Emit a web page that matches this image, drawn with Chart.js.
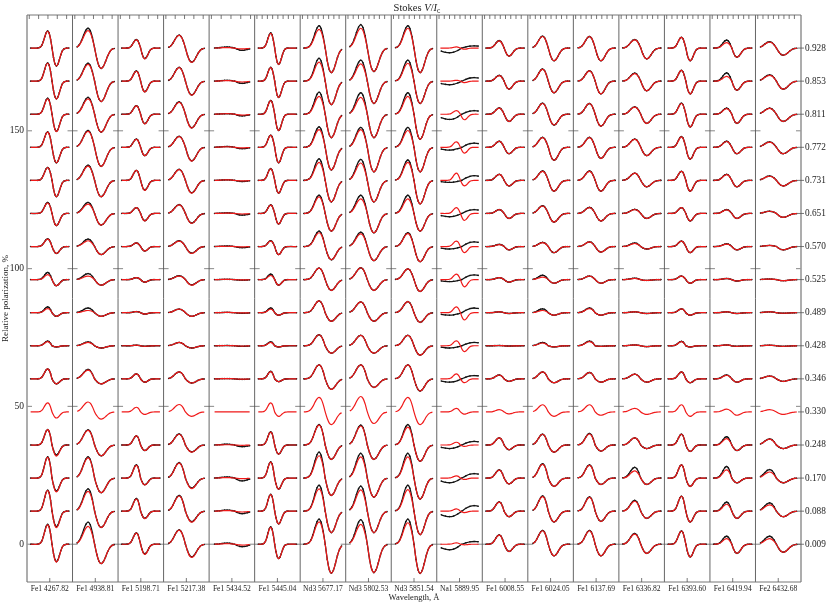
<!DOCTYPE html>
<html>
<head>
<meta charset="utf-8">
<script src="https://cdn.jsdelivr.net/npm/chart.js@4.4.1/dist/chart.umd.min.js"></script>
<style>
  html, body { margin: 0; padding: 0; background: #fff; }
</style>
</head>
<body>
<canvas id="grafik" width="830" height="604"></canvas>
<script>
// spectral lines, one panel each
const LINES = [
    'Fe1 4267.82', 'Fe1 4938.81', 'Fe1 5198.71', 'Fe1 5217.38', 'Fe1 5434.52',
    'Fe1 5445.04', 'Nd3 5677.17', 'Nd3 5802.53', 'Nd3 5851.54', 'Na1 5889.95',
    'Fe1 6008.55', 'Fe1 6024.05', 'Fe1 6137.69', 'Fe1 6336.82', 'Fe1 6393.60',
    'Fe1 6419.94', 'Fe2 6432.68'
];

// rotation phases, top row first
const PHASES = ['0.928', '0.853', '0.811', '0.772', '0.731', '0.651', '0.570', '0.525',
                '0.489', '0.428', '0.346', '0.330', '0.248', '0.170', '0.088', '0.009'];
const ROW_STEP = 12;          // vertical shift between phases, %
const Y_TICKS = [0, 50, 100, 150];

// normalised Stokes V shape, u = -1 ... 1 in steps of 0.1
const SHAPE = [0, 0.02, 0.06, 0.17, 0.38, 0.66, 0.90, 1.00, 0.88, 0.52, 0,
               -0.52, -0.88, -1.00, -0.90, -0.66, -0.38, -0.17, -0.06, -0.02, 0];

// line centre and half width inside a panel (panel = 1)
const CENTER     = [0.55, 0.485, 0.495, 0.48, 0.56, 0.44, 0.55, 0.475, 0.50, 0.52, 0.48, 0.45, 0.48, 0.48, 0.47, 0.48, 0.46];
const WIDTH      = [0.32, 0.48, 0.31, 0.46, 0.55, 0.29, 0.45, 0.48, 0.45, 0.30, 0.36, 0.42, 0.42, 0.44, 0.32, 0.38, 0.50];
const OBS_CENTER = [0.55, 0.485, 0.495, 0.48, 0.56, 0.44, 0.55, 0.475, 0.50, 0.55, 0.48, 0.45, 0.48, 0.48, 0.47, 0.48, 0.46];
const OBS_WIDTH  = [0.32, 0.48, 0.31, 0.46, 0.55, 0.29, 0.45, 0.48, 0.45, 0.90, 0.36, 0.42, 0.42, 0.44, 0.32, 0.38, 0.50];

// model (red): blue lobe height and red lobe depth, %
const MOD_PEAK = [
    [6.1, 6.5, 5.6, 5.5, 4.6, 3.8, 2.7, 1.8, 1.5, 1.5, 3.6, 3.3, 5.6, 7.5, 7.5, 7.0],
    [6.3, 6.1, 5.6, 5.8, 5.2, 3.4, 2.1, 1.3, 0.8, 1.2, 3.2, 3.6, 5.3, 7.3, 7.2, 6.5],
    [3.0, 3.6, 3.0, 2.9, 3.6, 2.1, 1.3, 0.7, 0.4, 0.2, 1.8, 1.7, 3.3, 4.6, 4.4, 4.0],
    [4.6, 4.9, 4.3, 3.9, 3.9, 3.1, 2.0, 1.3, 1.3, 1.2, 2.5, 2.7, 3.9, 5.4, 5.5, 5.1],
    [0.2, 0.2, 0.2, 0.2, 0.2, 0.1, 0.1, 0.1, 0.1, 0.1, 0.1, 0.0, 0.1, 0.2, 0.2, 0.2],
    [5.3, 4.9, 4.9, 4.3, 4.2, 3.0, 2.0, 1.5, 1.3, 1.2, 2.6, 3.3, 4.7, 5.8, 6.0, 6.1],
    [6.8, 6.9, 6.5, 6.4, 6.5, 6.0, 5.0, 4.2, 4.3, 4.0, 5.1, 5.3, 7.2, 8.1, 8.1, 8.1],
    [7.2, 6.3, 6.1, 6.4, 6.3, 5.3, 4.6, 4.3, 3.9, 3.8, 5.1, 5.6, 6.9, 7.7, 7.7, 7.2],
    [7.2, 6.5, 6.5, 6.1, 6.5, 5.3, 4.7, 3.9, 4.0, 3.8, 5.1, 5.3, 6.5, 7.7, 7.8, 7.8],
    [0.4, 0.3, 1.3, 2.0, 2.6, 2.1, 2.0, 2.0, 2.1, 1.8, 1.8, 1.3, 1.0, 0.8, 0.8, 0.5],
    [2.6, 2.0, 2.2, 2.2, 2.2, 1.4, 0.7, 0.7, 0.3, 0.1, 1.4, 0.8, 2.6, 2.9, 3.3, 3.3],
    [4.2, 4.3, 3.9, 3.5, 3.3, 2.7, 1.4, 0.9, 0.8, 1.0, 2.5, 2.6, 3.9, 5.0, 5.3, 4.9],
    [4.2, 3.7, 3.9, 3.5, 3.3, 2.1, 1.7, 1.3, 1.5, 1.5, 2.3, 2.6, 4.0, 4.6, 5.0, 4.9],
    [3.0, 2.7, 2.6, 2.9, 2.6, 1.4, 1.1, 0.4, 0.3, 0.3, 1.7, 1.3, 2.6, 2.6, 3.6, 3.7],
    [3.9, 3.9, 3.9, 3.8, 3.3, 2.1, 2.0, 1.3, 1.4, 1.5, 2.5, 2.6, 3.9, 4.8, 5.4, 4.8],
    [2.0, 1.7, 2.0, 2.1, 2.1, 1.3, 0.9, 0.4, 0.3, 0.3, 1.3, 1.0, 2.3, 3.0, 2.5, 2.0],
    [2.2, 2.1, 2.1, 1.9, 1.5, 0.8, 0.4, 0.2, 0.3, 0.2, 1.0, 0.8, 2.1, 2.2, 2.3, 2.0]
];
const MOD_TROUGH = [
    [6.5, 6.5, 6.3, 5.6, 5.9, 4.4, 2.5, 2.2, 1.3, 0.4, 1.8, 2.2, 4.0, 5.0, 6.0, 6.5],
    [7.4, 7.4, 6.5, 6.9, 5.9, 4.2, 2.9, 2.0, 1.3, 0.8, 1.8, 2.6, 3.9, 5.3, 5.9, 7.0],
    [3.9, 3.9, 3.5, 3.0, 3.6, 2.7, 1.6, 0.9, 0.5, 0.2, 1.2, 0.9, 2.0, 2.5, 2.7, 3.7],
    [5.2, 5.1, 5.0, 5.0, 4.6, 3.6, 2.5, 2.0, 1.3, 0.8, 1.5, 1.6, 2.6, 3.8, 4.0, 4.8],
    [0.3, 0.3, 0.3, 0.2, 0.2, 0.2, 0.1, 0.1, 0.1, 0.1, 0.1, 0.0, 0.1, 0.2, 0.3, 0.3],
    [5.9, 5.9, 5.9, 5.6, 4.6, 3.8, 2.9, 2.0, 0.9, 0.4, 1.0, 1.6, 3.3, 4.0, 4.6, 5.2],
    [8.9, 8.5, 8.5, 8.2, 7.8, 6.4, 4.8, 3.9, 3.1, 2.7, 3.8, 4.6, 5.2, 6.3, 7.8, 10.5],
    [8.5, 8.1, 8.5, 8.9, 7.8, 7.0, 5.1, 3.9, 3.1, 2.7, 3.1, 4.2, 5.2, 6.9, 7.8, 10.3],
    [8.9, 8.1, 9.1, 8.9, 8.5, 6.4, 5.5, 4.3, 3.5, 3.4, 4.4, 4.6, 5.9, 7.6, 8.5, 10.6],
    [0.4, 0.5, 2.0, 2.1, 2.0, 2.5, 2.2, 2.6, 2.6, 2.1, 1.4, 0.8, 0.5, 0.5, 0.5, 0.2],
    [2.9, 2.9, 2.6, 2.3, 2.0, 1.8, 1.2, 0.9, 0.3, 0.1, 0.9, 0.7, 1.7, 2.1, 2.0, 2.6],
    [4.6, 4.2, 3.9, 4.7, 3.9, 3.1, 2.2, 1.3, 0.9, 0.4, 1.4, 1.6, 2.6, 3.0, 3.9, 4.2],
    [4.6, 4.6, 4.3, 4.0, 3.9, 2.7, 2.0, 1.3, 0.9, 0.2, 1.2, 1.2, 2.2, 2.3, 3.7, 4.2],
    [3.9, 3.5, 3.3, 3.0, 2.3, 1.8, 0.9, 0.3, 0.3, 0.3, 1.2, 0.9, 1.3, 2.3, 2.6, 3.3],
    [4.6, 4.6, 4.6, 4.3, 3.9, 2.7, 2.2, 1.3, 0.9, 0.4, 1.4, 1.6, 2.3, 3.0, 3.9, 4.6],
    [3.3, 3.3, 3.3, 2.3, 2.3, 1.8, 1.2, 0.5, 0.3, 0.2, 1.2, 1.2, 2.0, 1.7, 2.6, 3.3],
    [2.6, 2.9, 2.6, 2.3, 2.0, 1.4, 1.2, 0.4, 0.2, 0.2, 0.9, 0.9, 1.3, 1.7, 2.0, 2.9]
];

// observations (black); null = no spectrum at that phase
const OBS_PEAK = [
    [6.2, 6.6, 5.8, 5.6, 4.7, 4.0, 2.8, 2.6, 2.1, 1.7, 3.6, null, 5.6, 7.7, 7.6, 7.2],
    [7.2, 6.5, 6.1, 6.1, 5.5, 4.0, 2.7, 2.2, 1.7, 1.4, 3.4, null, 5.5, 7.7, 8.1, 8.0],
    [3.1, 3.7, 3.1, 3.0, 3.6, 2.1, 1.3, 0.7, 0.4, 0.2, 1.8, null, 3.3, 4.8, 4.6, 4.1],
    [4.7, 5.0, 4.5, 4.0, 4.0, 3.2, 2.1, 1.4, 1.3, 1.2, 2.5, null, 4.0, 5.6, 5.7, 5.2],
    [0.4, 0.3, 0.2, 0.3, 0.2, 0.2, 0.2, 0.1, 0.1, 0.1, 0.1, null, 0.3, 0.4, 0.4, 0.4],
    [5.5, 5.0, 5.0, 4.4, 4.3, 3.1, 2.1, 2.0, 1.7, 1.4, 2.7, null, 4.8, 5.9, 6.1, 6.3],
    [8.1, 8.3, 8.0, 7.4, 7.8, 6.6, 5.6, 4.2, 4.3, 4.0, 5.1, null, 7.4, 9.4, 9.4, 9.1],
    [8.5, 7.6, 7.8, 7.2, 7.6, 6.6, 5.2, 4.3, 3.9, 3.8, 5.1, null, 7.2, 9.0, 9.1, 8.9],
    [8.1, 7.6, 7.8, 7.2, 7.4, 6.6, 5.0, 3.9, 4.0, 3.8, 5.1, null, 7.4, 9.0, 9.4, 9.1],
    [-1.7, -1.3, -1.9, -1.0, -0.7, -1.2, -0.9, -0.7, -0.9, -0.8, -1.2, null, -1.3, -1.7, -2.0, -2.0],
    [2.7, 2.1, 2.3, 2.2, 2.2, 1.4, 0.8, 0.7, 0.3, 0.1, 1.4, null, 2.6, 3.0, 3.4, 3.4],
    [4.3, 4.4, 4.0, 3.6, 3.4, 2.8, 1.5, 1.6, 1.4, 1.2, 2.5, null, 3.9, 5.2, 5.5, 5.0],
    [4.2, 3.8, 3.9, 3.6, 3.4, 2.2, 1.7, 1.3, 1.7, 1.7, 2.3, null, 4.2, 4.8, 5.2, 5.0],
    [3.1, 2.9, 2.7, 3.0, 2.6, 1.5, 1.3, 0.5, 0.3, 0.3, 1.7, null, 2.6, 3.9, 3.9, 3.9],
    [3.9, 3.9, 4.0, 3.9, 3.3, 2.1, 2.0, 1.3, 1.4, 1.6, 2.5, null, 3.9, 4.8, 5.4, 4.8],
    [2.9, 3.0, 2.2, 2.2, 2.2, 1.4, 1.0, 0.4, 0.3, 0.3, 1.4, null, 3.0, 4.2, 3.3, 2.9],
    [2.3, 2.3, 2.2, 2.0, 1.6, 0.8, 0.4, 0.2, 0.3, 0.2, 1.0, null, 2.2, 3.1, 3.0, 2.9]
];
// null row = same depth as the model
const OBS_TROUGH = [
    [6.5, 6.4, 6.2, 5.6, 5.9, 4.4, 2.5, 2.2, 1.3, 0.4, 1.8, null, 3.6, 4.7, 5.6, 6.3],
    null,
    [3.8, 3.8, 3.4, 3.0, 3.5, 2.6, 1.6, 0.9, 0.5, 0.2, 1.2, null, 2.0, 2.4, 2.6, 3.5],
    [5.1, 5.0, 4.9, 4.9, 4.5, 3.5, 2.4, 1.9, 1.3, 0.8, 1.5, null, 2.5, 3.6, 3.8, 4.6],
    [0.8, 0.8, 0.6, 0.5, 0.4, 0.6, 0.4, 0.2, 0.2, 0.2, 0.2, null, 0.6, 1.0, 0.9, 0.9],
    null, null, null, null,
    [-0.8, -1.3, -1.3, -1.5, -1.7, -1.4, -1.7, -1.7, -1.7, -1.2, -1.2, null, -1.3, -1.6, -2.0, -1.0],
    null, null, null, null, null, null, null
];

// top axis tick spacing per panel
const TOP_TICK_STEP = [0.205, 0.205, 0.205, 0.205, 0.215, 0.115, 0.115, 0.115, 0.115,
                       0.115, 0.115, 0.115, 0.115, 0.115, 0.115, 0.115, 0.115];

const Y_MIN = -13.7, Y_MAX = 192;
const X_LEFT = 0.08, X_RIGHT = 0.92;
const SERIF = '"Liberation Serif", "DejaVu Serif", serif';

function rowOffset(r) {
    return (PHASES.length - 1 - r) * ROW_STEP;
}

function profile(panel, off, center, width, peak, trough) {
    const pts = [];
    if (center - width > X_LEFT) pts.push({ x: panel + X_LEFT, y: off });
    SHAPE.forEach((s, k) => {
        const u = -1 + k * 0.1;
        const f = center + u * width;
        if (f < X_LEFT || f > X_RIGHT) return;
        pts.push({ x: panel + f, y: off + s * (u < 0 ? peak : trough) });
    });
    if (center + width < X_RIGHT) pts.push({ x: panel + X_RIGHT, y: off });
    pts.push({ x: panel + X_RIGHT + 0.01, y: null });
    return pts;
}

const modelData = [];
const obsData = [];
LINES.forEach((name, l) => {
    PHASES.forEach((ph, r) => {
        const off = rowOffset(r);
        modelData.push(...profile(l, off, CENTER[l], WIDTH[l], MOD_PEAK[l][r], MOD_TROUGH[l][r]));
        const op = OBS_PEAK[l][r];
        if (op === null) return;
        const ot = OBS_TROUGH[l] ? OBS_TROUGH[l][r] : MOD_TROUGH[l][r];
        obsData.push(...profile(l, off, OBS_CENTER[l], OBS_WIDTH[l], op, ot));
    });
});

const framePlugin = {
    id: 'frame',
    beforeDatasetsDraw(chart) {
        const { ctx, chartArea: a } = chart;
        const x = chart.scales.x, y = chart.scales.y;
        ctx.save();

        // y ticks on both sides of every panel
        ctx.strokeStyle = '#9a9a9a';
        ctx.lineWidth = 1.2;
        for (let k = 0; k <= LINES.length; k++) {
            const px = x.getPixelForValue(k);
            Y_TICKS.forEach(v => {
                const py = y.getPixelForValue(v);
                ctx.beginPath();
                ctx.moveTo(Math.max(a.left, px - 5), py);
                ctx.lineTo(Math.min(a.right, px + 5), py);
                ctx.stroke();
            });
        }

        // panel borders
        for (let k = 0; k <= LINES.length; k++) {
            const px = x.getPixelForValue(k);
            const outer = (k === 0 || k === LINES.length);
            ctx.strokeStyle = outer ? '#999' : '#555';
            ctx.lineWidth = outer ? 1.6 : 0.9;
            ctx.beginPath();
            ctx.moveTo(px, a.top);
            ctx.lineTo(px, a.bottom);
            ctx.stroke();
        }
        ctx.strokeStyle = '#777';
        ctx.lineWidth = 1;
        ctx.beginPath();
        ctx.moveTo(a.left, a.top); ctx.lineTo(a.right, a.top);
        ctx.moveTo(a.left, a.bottom); ctx.lineTo(a.right, a.bottom);
        ctx.stroke();

        // top and bottom ticks
        ctx.strokeStyle = '#555';
        ctx.lineWidth = 0.8;
        ctx.beginPath();
        LINES.forEach((n, i) => {
            for (let f = 0.05; f < 0.95; f += TOP_TICK_STEP[i]) {
                const px = x.getPixelForValue(i + f);
                ctx.moveTo(px, a.top);
                ctx.lineTo(px, a.top + 4);
            }
            const pc = x.getPixelForValue(i + 0.5);
            ctx.moveTo(pc, a.bottom);
            ctx.lineTo(pc, a.bottom - 4);
        });
        // phase ticks on the right
        PHASES.forEach((p, r) => {
            const py = y.getPixelForValue(rowOffset(r));
            ctx.moveTo(a.right - 3, py);
            ctx.lineTo(a.right + 3, py);
        });
        ctx.stroke();
        ctx.restore();
    },
    afterDraw(chart) {
        const { ctx, chartArea: a } = chart;
        const parts = [
            ['Stokes ', '10.5px ' + SERIF, 0],
            ['V', 'italic 10.5px ' + SERIF, 0],
            ['/', '10.5px ' + SERIF, 0],
            ['I', 'italic 10.5px ' + SERIF, 0],
            ['c', '7.5px ' + SERIF, 2]
        ];
        ctx.save();
        ctx.fillStyle = '#222';
        ctx.textBaseline = 'alphabetic';
        let total = 0;
        parts.forEach(p => { ctx.font = p[1]; total += ctx.measureText(p[0]).width; });
        let cx = (a.left + a.right) / 2 + 3 - total / 2;
        parts.forEach(p => {
            ctx.font = p[1];
            ctx.fillText(p[0], cx, 11 + p[2]);
            cx += ctx.measureText(p[0]).width;
        });
        ctx.restore();
    }
};

Chart.defaults.font.family = SERIF;
Chart.defaults.color = '#222';

const chart = new Chart(document.getElementById('grafik'), {
    type: 'line',
    data: {
        datasets: [
            {
                label: 'model',
                data: modelData,
                borderColor: 'rgb(240, 25, 25)',
                borderWidth: 1.2,
                pointRadius: 0,
                tension: 0.35,
                spanGaps: false
            },
            {
                label: 'observed',
                data: obsData,
                borderColor: 'rgb(20, 20, 20)',
                backgroundColor: 'rgb(20, 20, 20)',
                borderWidth: 1.3,
                pointRadius: 0.8,
                pointBorderWidth: 0,
                tension: 0.35,
                spanGaps: false
            }
        ]
    },
    options: {
        responsive: false,
        animation: false,
        events: [],
        layout: { padding: { top: 15, left: 0, right: 0, bottom: 0 } },
        plugins: {
            legend: { display: false },
            tooltip: { enabled: false }
        },
        scales: {
            x: {
                type: 'linear',
                position: 'bottom',
                min: 0,
                max: LINES.length,
                grid: { display: false, drawTicks: false },
                border: { display: false },
                afterBuildTicks: s => { s.ticks = LINES.map((n, i) => ({ value: i + 0.5 })); },
                afterFit: s => { s.height = 22; },
                ticks: {
                    autoSkip: false, maxRotation: 0, minRotation: 0, padding: 2,
                    font: { size: 7.6 },
                    callback: (v, i) => LINES[i]
                },
                title: {
                    display: true, text: 'Wavelength, Å',
                    font: { size: 8.5 }, padding: { top: 0, bottom: 1 }
                }
            },
            y: {
                type: 'linear',
                position: 'left',
                min: Y_MIN,
                max: Y_MAX,
                grid: { display: false, drawTicks: false },
                border: { display: false },
                afterBuildTicks: s => { s.ticks = Y_TICKS.map(v => ({ value: v })); },
                afterFit: s => { s.width = 27; },
                ticks: { padding: 3, font: { size: 9.5 } },
                title: {
                    display: true, text: 'Relative polarization, %',
                    font: { size: 9 }, padding: 0
                }
            },
            y2: {
                type: 'linear',
                position: 'right',
                min: Y_MIN,
                max: Y_MAX,
                grid: { display: false, drawTicks: false },
                border: { display: false },
                afterBuildTicks: s => { s.ticks = PHASES.map((p, r) => ({ value: rowOffset(r) })); },
                afterFit: s => { s.width = 29; },
                ticks: { padding: 4, font: { size: 9.3 }, callback: (v, i) => PHASES[i] }
            }
        }
    },
    plugins: [framePlugin]
});
</script>
</body>
</html>
